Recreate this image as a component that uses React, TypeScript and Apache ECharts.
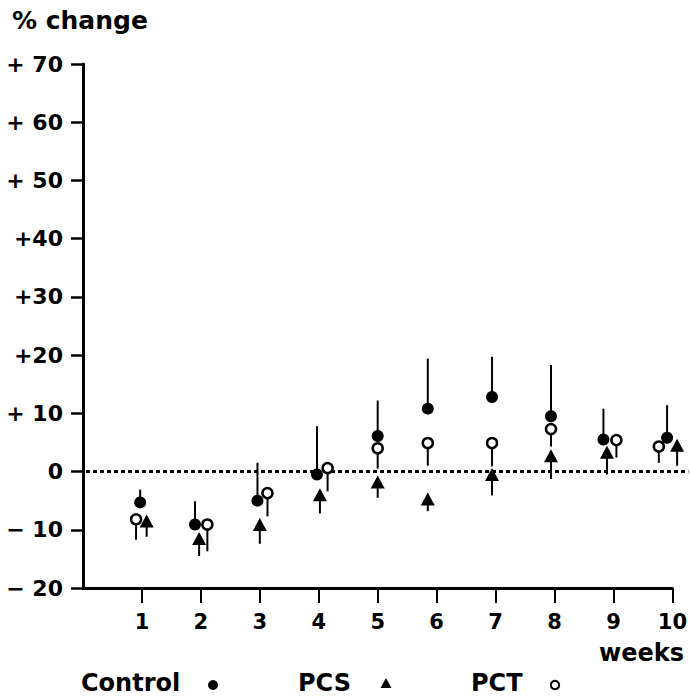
import React, { useEffect, useRef } from "react";
import * as echarts from "echarts";

const weeks = [1, 2, 3, 4, 5, 6, 7, 8, 9, 10];
const yTickLabels: Record<number, string> = {
  70: "+ 70", 60: "+ 60", 50: "+ 50", 40: "+40", 30: "+30",
  20: "+20", 10: "+ 10", 0: "0", [-10]: "\u2212 10", [-20]: "\u2212 20",
};

// Control (filled circle), error bar upward
const control = [-5.3, -9.1, -5.0, -0.5, 6.1, 10.8, 12.8, 9.5, 5.5, 5.8];
const controlSE = [2.2, 4.0, 6.5, 8.3, 6.1, 8.6, 6.9, 8.8, 5.3, 5.6];
const controlShift = [-0.03, -0.1, -0.04, -0.03, 0, -0.15, -0.06, -0.06, -0.17, -0.09];

// PCS (filled triangle), error bar downward
const pcs = [-8.5, -11.5, -9.1, -4.0, -1.8, -4.7, -0.5, 2.7, 3.3, 4.5];
const pcsSE = [2.7, 3.0, 3.3, 3.2, 2.7, 2.1, 3.6, 4.0, 3.8, 3.5];
const pcsShift = [0.08, -0.03, 0, 0.02, 0, -0.15, -0.06, -0.06, -0.11, 0.08];

// PCT (open circle), error bar downward
const pct = [-8.2, -9.1, -3.7, 0.6, 4.0, 4.9, 4.9, 7.3, 5.4, 4.3];
const pctSE = [3.5, 4.6, 4.0, 4.0, 3.5, 3.9, 4.0, 3.0, 3.0, 2.8];
const pctShift = [-0.1, 0.11, 0.13, 0.15, 0, -0.15, -0.06, -0.06, 0.05, -0.23];

const FONT = "DejaVu Sans";

function errData(mean: number[], se: number[], shift: number[], dir: number) {
  return weeks.map((w, i) => [w + shift[i], mean[i], mean[i] + dir * se[i]]);
}
function ptData(mean: number[], shift: number[]) {
  return weeks.map((w, i) => [w + shift[i], mean[i]]);
}

const errRender = (params: any, api: any) => {
  const x = api.value(0);
  const p0 = api.coord([x, api.value(1)]);
  const p1 = api.coord([x, api.value(2)]);
  return {
    type: "line",
    shape: { x1: p0[0], y1: p0[1], x2: p1[0], y2: p1[1] },
    style: { stroke: "#000", lineWidth: 2 },
  };
};

export default function App() {
  const ref = useRef<HTMLDivElement>(null);
  useEffect(() => {
    if (!ref.current) return;
    const chart = echarts.init(ref.current, null, { renderer: "svg" });
    chart.setOption({
      animation: false,
      backgroundColor: "#fff",
      grid: { left: 83, right: 17, top: 64, bottom: 111, containLabel: false },
      xAxis: {
        type: "value",
        min: 0,
        max: 10,
        interval: 1,
        splitLine: { show: false },
        axisLine: { show: true, onZero: false, lineStyle: { color: "#000", width: 3 } },
        axisTick: {
          show: true,
          customValues: weeks,
          length: 15,
          lineStyle: { color: "#000", width: 2 },
        },
        axisLabel: {
          customValues: weeks,
          margin: 23,
          color: "#000",
          fontFamily: FONT,
          fontWeight: "bold",
          fontSize: 21,
        },
      },
      yAxis: {
        type: "value",
        min: -20,
        max: 70,
        interval: 10,
        splitLine: { show: false },
        axisLine: { show: true, onZero: false, lineStyle: { color: "#000", width: 3 } },
        axisTick: { show: true, length: 12, lineStyle: { color: "#000", width: 2.5 } },
        axisLabel: {
          margin: 20,
          color: "#000",
          fontFamily: FONT,
          fontWeight: "bold",
          fontSize: 22,
          formatter: (v: number) => yTickLabels[v] ?? String(v),
        },
      },
      graphic: [
        {
          type: "text",
          left: 12,
          top: 8,
          style: {
            text: "% change",
            fill: "#000",
            font: `bold 25px "${FONT}"`,
          },
        },
        {
          type: "text",
          x: 684,
          y: 653,
          style: {
            text: "weeks",
            fill: "#000",
            font: `bold 24px "${FONT}"`,
            align: "right",
            verticalAlign: "middle",
          },
        },
        {
          type: "text",
          x: 81,
          y: 683,
          style: {
            text: "Control",
            fill: "#000",
            font: `bold 24px "${FONT}"`,
            align: "left",
            verticalAlign: "middle",
          },
        },
        { type: "circle", shape: { cx: 213, cy: 685, r: 5 }, style: { fill: "#000" } },
        {
          type: "text",
          x: 298,
          y: 683,
          style: {
            text: "PCS",
            fill: "#000",
            font: `bold 24px "${FONT}"`,
            align: "left",
            verticalAlign: "middle",
          },
        },
        {
          type: "polygon",
          shape: { points: [[386, 678], [380.5, 688], [391.5, 688]] },
          style: { fill: "#000" },
        },
        {
          type: "text",
          x: 471,
          y: 683,
          style: {
            text: "PCT",
            fill: "#000",
            font: `bold 24px "${FONT}"`,
            align: "left",
            verticalAlign: "middle",
          },
        },
        {
          type: "circle",
          shape: { cx: 555, cy: 685, r: 4.2 },
          style: { fill: "#fff", stroke: "#000", lineWidth: 2 },
        },
      ],
      series: [
        {
          type: "custom",
          name: "zero",
          clip: false,
          silent: true,
          data: [[0, 0]],
          renderItem: (params: any, api: any) => {
            const a = api.coord([0, 0]);
            const b = api.coord([10, 0]);
            return {
              type: "line",
              shape: { x1: a[0] + 3, y1: a[1], x2: b[0] + 16, y2: b[1] },
              style: { stroke: "#000", lineWidth: 3, lineDash: [4, 3] },
            };
          },
          z: 1,
        },
        {
          type: "custom",
          name: "Control SE",
          clip: false,
          data: errData(control, controlSE, controlShift, 1),
          renderItem: errRender,
          z: 2,
        },
        {
          type: "custom",
          name: "PCS SE",
          clip: false,
          data: errData(pcs, pcsSE, pcsShift, -1),
          renderItem: errRender,
          z: 2,
        },
        {
          type: "custom",
          name: "PCT SE",
          clip: false,
          data: errData(pct, pctSE, pctShift, -1),
          renderItem: errRender,
          z: 2,
        },
        {
          type: "scatter",
          name: "PCS",
          clip: false,
          data: ptData(pcs, pcsShift),
          symbol: "triangle",
          symbolSize: [14, 13],
          itemStyle: { color: "#000", opacity: 1 },
          z: 3,
        },
        {
          type: "scatter",
          name: "PCT",
          clip: false,
          data: ptData(pct, pctShift),
          symbol: "circle",
          symbolSize: 10,
          itemStyle: { color: "#fff", borderColor: "#000", borderWidth: 2.5, opacity: 1 },
          z: 4,
        },
        {
          type: "scatter",
          name: "Control",
          clip: false,
          data: ptData(control, controlShift),
          symbol: "circle",
          symbolSize: 12,
          itemStyle: { color: "#000", opacity: 1 },
          z: 5,
        },
      ],
    });
    return () => chart.dispose();
  }, []);
  return (
    <div
      ref={ref}
      style={{ position: "fixed", left: 0, top: 0, width: 690, height: 699, background: "#fff" }}
    />
  );
}
